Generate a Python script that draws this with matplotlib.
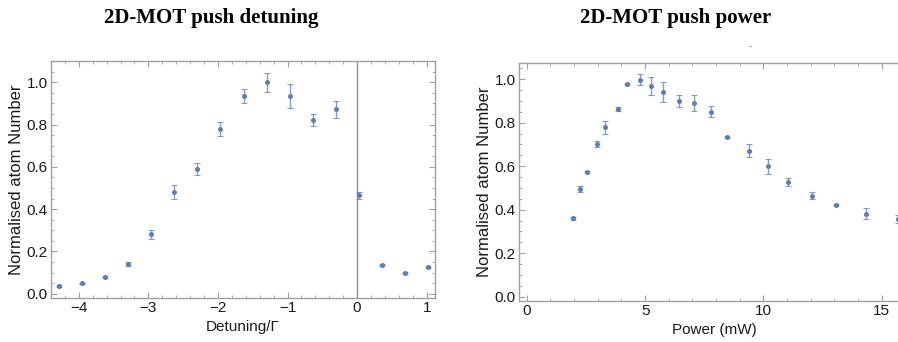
import numpy as np
import matplotlib.pyplot as plt
from matplotlib.ticker import MultipleLocator

# push beam detuning scan (units of Gamma)
detuning = [-4.29, -3.96, -3.63, -3.30, -2.96, -2.63, -2.30, -1.97, -1.63,
            -1.30, -0.97, -0.64, -0.31, 0.03, 0.36, 0.69, 1.02]
det_atoms = [0.038, 0.049, 0.079, 0.142, 0.281, 0.479, 0.588, 0.779, 0.935,
             1.000, 0.935, 0.820, 0.872, 0.465, 0.136, 0.099, 0.128]
det_err = [0.004, 0.004, 0.005, 0.010, 0.020, 0.033, 0.028, 0.031, 0.033,
           0.045, 0.056, 0.028, 0.039, 0.018, 0.005, 0.004, 0.004]

# push beam power scan (mW)
power = [1.96, 2.24, 2.55, 2.97, 3.31, 3.86, 4.24, 4.77, 5.25, 5.75, 6.45,
         7.06, 7.80, 8.46, 9.37, 10.21, 11.03, 12.07, 13.08, 14.31, 15.68]
pow_atoms = [0.360, 0.495, 0.575, 0.702, 0.779, 0.862, 0.977, 0.998, 0.968,
             0.940, 0.900, 0.890, 0.851, 0.733, 0.672, 0.600, 0.526, 0.465,
             0.422, 0.382, 0.356]
pow_err = [0.008, 0.014, 0.004, 0.013, 0.029, 0.010, 0.004, 0.025, 0.042,
           0.046, 0.029, 0.037, 0.026, 0.004, 0.032, 0.034, 0.019, 0.017,
           0.004, 0.025, 0.018]

pt_color = '#5a7fb6'
frame_color = '#a0a0a0'
text_color = '#1a1a1a'

plt.rcParams['font.family'] = ['Liberation Sans', 'DejaVu Sans']

fig = plt.figure(figsize=(8.98, 3.42), dpi=100)
ax1 = fig.add_axes([51 / 898, 44 / 342, 384 / 898, 237.3 / 342])
ax2 = fig.add_axes([519 / 898, 41 / 342, 391 / 898, 238.3 / 342])


def style_frame(ax, xminor):
    for sp in ax.spines.values():
        sp.set_color(frame_color)
        sp.set_linewidth(1.0)
    ax.xaxis.set_minor_locator(MultipleLocator(xminor))
    ax.yaxis.set_major_locator(MultipleLocator(0.2))
    ax.yaxis.set_minor_locator(MultipleLocator(0.05))
    ax.tick_params(which='both', direction='in', top=True, right=True,
                   color=frame_color, labelsize=11, labelcolor=text_color, pad=2.5)
    ax.tick_params(which='major', length=4, width=0.8)
    ax.tick_params(which='minor', length=2, width=0.6)
    ax.set_ylabel('Normalised atom Number', fontsize=12, color=text_color, labelpad=2)
    ax.yaxis.set_major_formatter(plt.FuncFormatter(lambda v, p: f'{v:.1f}'))


def draw_points(ax, x, y, e, clip=True):
    ax.errorbar(x, y, yerr=e, fmt='none', ecolor=pt_color, alpha=0.75,
                elinewidth=1.0, capsize=2.5, capthick=0.8)
    ax.plot(x, y, 'o', color=pt_color, ms=3.6, mec='none', clip_on=clip)


# left: detuning
style_frame(ax1, 0.2)
ax1.axvline(0, color='#909090', lw=1.0, zorder=0)
draw_points(ax1, detuning, det_atoms, det_err, clip=False)
ax1.set_xlim(-4.40, 1.12)
ax1.set_ylim(-0.02, 1.102)
ax1.xaxis.set_major_locator(MultipleLocator(1))
ax1.xaxis.set_major_formatter(plt.FuncFormatter(lambda v, p: f'{v:.0f}'.replace('-', '\u2212')))
ax1.set_xlabel('Detuning/\u0393', fontsize=11, color=text_color, labelpad=3)

# right: power
style_frame(ax2, 1)
draw_points(ax2, power, pow_atoms, pow_err)
ax2.set_xlim(-0.33, 16.19)
ax2.set_ylim(-0.02, 1.076)
ax2.xaxis.set_major_locator(MultipleLocator(5))
ax2.set_xlabel('Power (mW)', fontsize=11, color=text_color, labelpad=3)

fig.text(211 / 898, 1 - 18 / 342, '2D-MOT push detuning', ha='center', va='center',
         fontsize=15, fontweight='bold', family=['Liberation Serif', 'DejaVu Serif'])
fig.text(676 / 898, 1 - 18 / 342, '2D-MOT push power', ha='center', va='center',
         fontsize=15, fontweight='bold', family=['Liberation Serif', 'DejaVu Serif'])
fig.text(750 / 898, 1 - 47 / 342, '-', ha='center', va='center', fontsize=6,
         color='#333333')

fig.savefig('out.png', dpi=100)
